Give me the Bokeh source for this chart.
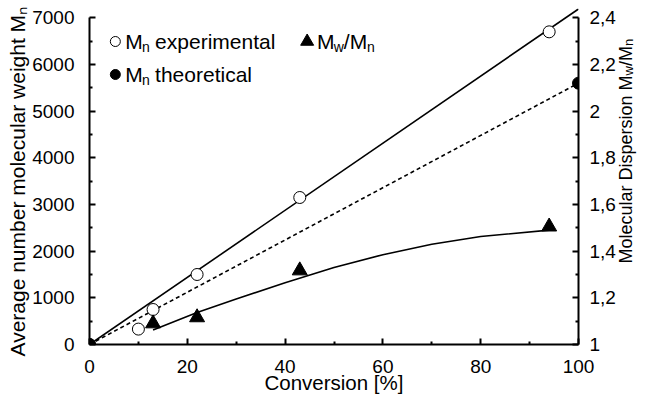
import math
from bokeh.plotting import figure
from bokeh.models import (Range1d, LinearAxis, FixedTicker, CustomJSTickFormatter, Label,
                          NumeralTickFormatter, AllLabels, Title)
from bokeh.embed import file_html
from bokeh.resources import INLINE

# ---------------- data ----------------
conversion_exp = [0, 10, 13, 22, 43, 94]
mn_exp = [0, 330, 750, 1500, 3150, 6700]

conversion_theo = [0, 100]
mn_theo = [0, 5600]

fit_exp_x = [0, 100]
fit_exp_y = [0, 7190]

conversion_disp = [13, 22, 43, 94]
dispersion = [1.09, 1.116, 1.317, 1.505]

trend_disp_x = [13, 22, 30, 40, 50, 60, 70, 80, 94]
trend_disp_y = [1.062, 1.137, 1.195, 1.265, 1.330, 1.385, 1.430, 1.463, 1.490]

x_ticks = [0, 20, 40, 60, 80, 100]
x_minor = [10, 30, 50, 70, 90]
y_ticks = [0, 1000, 2000, 3000, 4000, 5000, 6000, 7000]
y_minor = [500, 1500, 2500, 3500, 4500, 5500, 6500]
d_ticks = [1, 1.2, 1.4, 1.6, 1.8, 2, 2.2, 2.4]
d_minor = [1.1, 1.3, 1.5, 1.7, 1.9, 2.1, 2.3]

# ---------------- layout ----------------
W, H = 649, 400
FL, FT = 89, 8          # frame left / top (px)
FW, FH = 492, 336       # frame width / height (px)
FB = FT + FH            # frame bottom (px from top)
FONT = "Liberation Sans"
Y_END = 7200

p = figure(width=W, height=H, output_backend="svg", toolbar_location=None,
           x_range=Range1d(0, 100), y_range=Range1d(0, Y_END),
           x_axis_type=None, y_axis_type=None)
p.min_border = 0
p.min_border_left = FL
p.min_border_right = W - FL - FW
p.min_border_top = FT
p.min_border_bottom = H - FB
p.outline_line_color = None
p.background_fill_color = "white"
p.border_fill_color = "white"
p.extra_y_ranges = {"disp": Range1d(1, 1 + Y_END / 5000)}


# helpers: canvas pixel -> data coordinates
def dx(px):
    return (px - FL) * 100 / FW


def dy(py):
    return (FB - py) * Y_END / FH


def style(ax):
    ax.axis_line_width = 2
    ax.axis_line_color = "black"
    ax.major_tick_in = 6
    ax.major_tick_out = 0
    ax.minor_tick_in = 3
    ax.minor_tick_out = 0
    ax.major_tick_line_width = 2
    ax.minor_tick_line_width = 2
    ax.major_label_text_font = FONT
    ax.major_label_text_font_size = "19px"
    ax.major_label_text_color = "black"


xa = LinearAxis(ticker=FixedTicker(ticks=x_ticks, minor_ticks=x_minor), bounds=(0, 100))
style(xa)
xa.major_label_standoff = 15
p.add_layout(xa, "below")

ya = LinearAxis(ticker=FixedTicker(ticks=y_ticks, minor_ticks=y_minor), bounds=(0, 7000),
                formatter=NumeralTickFormatter(format="0"))
style(ya)
ya.major_label_standoff = 15
p.add_layout(ya, "left")

ra = LinearAxis(y_range_name="disp", ticker=FixedTicker(ticks=d_ticks, minor_ticks=d_minor),
                bounds=(1, 2.4),
                formatter=CustomJSTickFormatter(code="var s=(Math.round(tick*10)/10).toString(); return s.replace('.', ',');"))
style(ra)
ra.major_label_standoff = 11
p.add_layout(ra, "right")


def bare(ax, size, standoff):
    ax.major_label_policy = AllLabels()
    ax.axis_line_color = None
    ax.major_tick_line_color = None
    ax.minor_tick_line_color = None
    ax.major_tick_in = ax.major_tick_out = 0
    ax.minor_tick_in = ax.minor_tick_out = 0
    ax.major_label_standoff = standoff
    ax.major_label_text_font = FONT
    ax.major_label_text_font_size = f"{size}px"
    ax.major_label_text_color = "black"


# right title pieces: labels of extra invisible axes; each piece starts at its tick
def text_axis_right(positions, texts, size, standoff):
    ticks = [int(round(dy(v))) for v in positions]
    ax = LinearAxis(ticker=FixedTicker(ticks=ticks, minor_ticks=[]))
    ax.major_label_overrides = dict(zip(ticks, texts))
    bare(ax, size, standoff)
    ax.major_label_orientation = math.pi / 2
    p.add_layout(ax, "right")


# x title
xt = LinearAxis(ticker=FixedTicker(ticks=[50], minor_ticks=[]))
xt.major_label_overrides = {50: "Conversion [%]"}
bare(xt, 20.5, -5)
p.add_layout(xt, "below")

# left title
p.add_layout(Title(text="Average number molecular weight M\u2099", align="left", offset=-12,
                   standoff=2, text_font=FONT, text_font_size="21px",
                   text_font_style="normal", text_color="black"), "left")

# right title: "Molecular Dispersion M", "w" (sub), "/M", "n" (sub), reading upwards
RF, RS = 18, 13
r0 = 263
r1 = r0 - 10.446 * RF
r2 = r1 - 0.722 * RS
r3 = r2 - 1.111 * RF
text_axis_right([r0, r2], ["Molecular Dispersion M", "/M"], RF, 8)
text_axis_right([r1, r3], ["w", "n"], RS, -21)

# ---------------- series ----------------
p.line(fit_exp_x, fit_exp_y, line_color="black", line_width=1.6)
p.line(conversion_theo, mn_theo, line_color="black", line_width=1.6, line_dash="4 3")
p.line(trend_disp_x, trend_disp_y, line_color="black", line_width=1.6, y_range_name="disp")

p.scatter(conversion_exp, mn_exp, marker="circle", size=12, fill_color="white",
          line_color="black", line_width=1)
p.scatter(conversion_theo, mn_theo, marker="circle", size=12, fill_color="black",
          line_color="black")
p.scatter(conversion_disp, dispersion, marker="triangle", size=15, fill_color="black",
          line_color="black", y_range_name="disp")


def lab(x, y, text, size):
    p.add_layout(Label(x=dx(x), y=dy(y), text=text, text_font=FONT,
                       text_font_size=f"{size}px", text_align="left",
                       text_baseline="middle", text_color="black"))


# legend
LF, LS = 21, 14
R1, R2 = 41, 74
p.scatter([dx(115)], [dy(R1)], marker="circle", size=10, fill_color="white", line_color="black")
p.scatter([dx(115)], [dy(R2)], marker="circle", size=10, fill_color="black", line_color="black")
p.scatter([dx(308)], [dy(R1)], marker="triangle", size=13, fill_color="black", line_color="black")

for row, word in ((R1, "experimental"), (R2, "theoretical")):
    lab(125, row, "M", LF)
    lab(125 + 0.80 * LF, row + 5, "n", LS)
    lab(155, row, word, LF)

lab(318, R1, "M", LF)
lab(318 + 0.80 * LF, R1 + 5, "w", LS)
lab(318 + 0.80 * LF + 0.722 * LS, R1, "/M", LF)
lab(318 + 0.80 * LF + 0.722 * LS + 1.111 * LF, R1 + 5, "n", LS)

open("out.html", "w").write(file_html(p, INLINE))
